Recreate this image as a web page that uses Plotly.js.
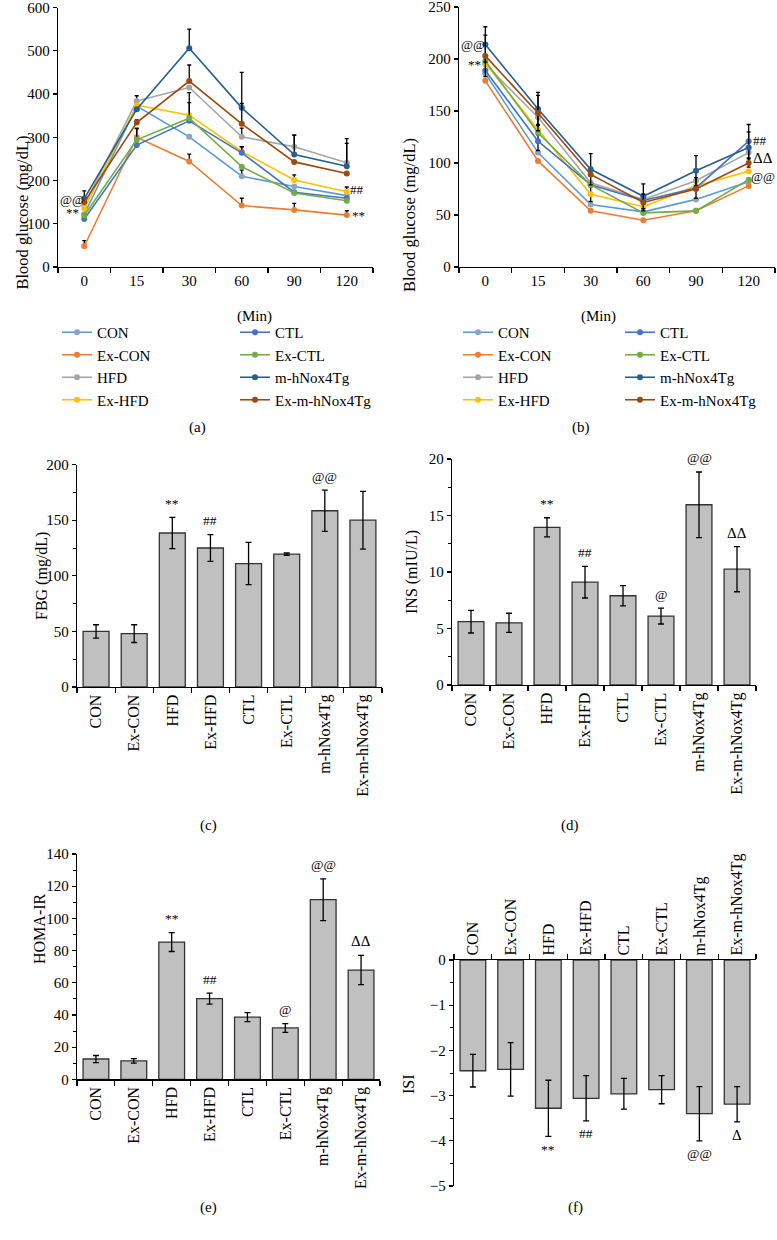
<!DOCTYPE html>
<html>
<head>
<meta charset="utf-8">
<script src="https://cdn.plot.ly/plotly-3.0.1.min.js"></script>
<style>
  body { margin: 0; background: #fff; }
  #graph { width: 777px; height: 1240px; }
</style>
</head>
<body>
<div id="graph"></div>
<script>
const groups = ['CON', 'Ex-CON', 'HFD', 'Ex-HFD', 'CTL', 'Ex-CTL', 'm-hNox4Tg', 'Ex-m-hNox4Tg'];
const lineColors = ['#5B9BD5', '#ED7D31', '#A5A5A5', '#FFC000', '#4472C4', '#70AD47', '#255E91', '#9E480E'];
const markerColors = ['#8FA3BF', '#ED7D31', '#A5A5A5', '#FFC000', '#4472C4', '#70AD47', '#255E91', '#9E480E'];
const minutes = ['0', '15', '30', '60', '90', '120'];

// (a) glucose tolerance, one row per group
const ogttMean = [
  [122, 372, 301, 210, 186, 165],
  [48, 300, 244, 142, 132, 120],
  [143, 384, 415, 301, 278, 241],
  [135, 374, 351, 267, 201, 174],
  [111, 282, 338, 264, 173, 159],
  [119, 294, 344, 232, 171, 153],
  [158, 365, 506, 368, 260, 233],
  [150, 334, 430, 331, 243, 216]
];
const ogttErr = [
  [0, 0, 0, 14, 0, 0],
  [13, 20, 17, 17, 15, 10],
  [0, 12, 0, 20, 27, 56],
  [0, 0, 52, 11, 12, 11],
  [0, 0, 0, 14, 0, 0],
  [0, 27, 36, 0, 0, 0],
  [18, 0, 44, 82, 45, 53],
  [0, 6, 37, 47, 0, 0]
];
const ogttNotes = [['@@', -0.24, 155], ['**', -0.22, 126], ['##', 5.19, 180], ['**', 5.23, 118]];

// (b) insulin tolerance
const ittMean = [
  [186, 110, 60, 53, 65, 82],
  [179, 102, 54, 45, 54, 78],
  [195, 144, 81, 65, 83, 110],
  [196, 132, 70, 58, 78, 92],
  [189, 121, 79, 64, 76, 121],
  [198, 129, 79, 52, 54, 84],
  [214, 152, 94, 68, 92.5, 115],
  [203, 148, 89, 62, 75, 100]
];
const ittErr = [
  [0, 0, 0, 0, 0, 0],
  [0, 0, 0, 0, 0, 0],
  [0, 0, 0, 0, 0, 0],
  [0, 5, 7, 0, 0, 0],
  [0, 9, 0, 0, 10, 16],
  [0, 0, 0, 0, 0, 0],
  [17, 16, 15, 12, 14.5, 15],
  [20, 17, 0, 8, 0, 4]
];
const ittNotes = [['@@', -0.24, 214], ['**', -0.21, 195], ['##', 5.21, 122], ['ΔΔ', 5.27, 104.5], ['@@', 5.28, 87]];

// (c)-(f) bar panels
const fbg = [50, 48, 138.5, 125, 111, 119.5, 158.5, 150];
const fbgErr = [6, 8, 14, 12, 19, 1, 18.5, 26];
const fbgMarks = ['', '', '**', '##', '', '', '@@', ''];

const ins = [5.6, 5.5, 13.95, 9.1, 7.9, 6.1, 15.95, 10.25];
const insErr = [1.0, 0.85, 0.85, 1.4, 0.9, 0.7, 2.9, 2.0];
const insMarks = ['', '', '**', '##', '', '@', '@@', 'ΔΔ'];

const homa = [12.6, 11.4, 85.3, 50.1, 38.6, 31.9, 111.6, 67.9];
const homaErr = [2.2, 1.4, 5.9, 3.4, 2.8, 2.7, 13, 9.1];
const homaMarks = ['', '', '**', '##', '', '@', '@@', 'ΔΔ'];

const isi = [-2.45, -2.42, -3.28, -3.06, -2.96, -2.87, -3.40, -3.19];
const isiErr = [0.36, 0.59, 0.62, 0.5, 0.34, 0.31, 0.6, 0.39];
const isiMarks = ['', '', '**', '##', '', '', '@@', 'Δ'];

const FONT = '"Liberation Serif", "Times New Roman", serif';
const px = x => x / 777;
const py = y => 1 - y / 1240;

const traces = [];

groups.forEach((g, i) => {
  traces.push({
    type: 'scatter', mode: 'lines+markers', name: g,
    x: minutes, y: ogttMean[i], xaxis: 'x', yaxis: 'y',
    line: {color: lineColors[i], width: 1.6},
    marker: {color: markerColors[i], size: 6},
    error_y: {
      type: 'data', symmetric: false,
      array: ogttErr[i].map(e => e || null),
      arrayminus: ogttErr[i].map(e => e ? 0 : null),
      color: '#000', thickness: 1.3, width: 2
    },
    legend: i < 4 ? 'legend' : 'legend2'
  });
});

groups.forEach((g, i) => {
  traces.push({
    type: 'scatter', mode: 'lines+markers', name: g,
    x: minutes, y: ittMean[i], xaxis: 'x2', yaxis: 'y2',
    line: {color: lineColors[i], width: 1.6},
    marker: {color: markerColors[i], size: 6},
    error_y: {
      type: 'data', symmetric: true,
      array: ittErr[i].map(e => e || null),
      color: '#000', thickness: 1.3, width: 2
    },
    legend: i < 4 ? 'legend3' : 'legend4'
  });
});

function barTrace(vals, errs, n) {
  return {
    type: 'bar', x: groups, y: vals, xaxis: 'x' + n, yaxis: 'y' + n,
    width: 0.68, showlegend: false,
    marker: {color: '#C0C0C0', line: {color: '#333', width: 1.3}},
    error_y: {type: 'data', array: errs, color: '#000', thickness: 1.3, width: 3}
  };
}
traces.push(barTrace(fbg, fbgErr, 3));
traces.push(barTrace(ins, insErr, 4));
traces.push(barTrace(homa, homaErr, 5));
traces.push(barTrace(isi, isiErr, 6));

const tickFont = {family: FONT, size: 15, color: '#000'};
const baseAxis = {
  showline: true, linecolor: '#000', linewidth: 1.2,
  ticks: 'outside', tickcolor: '#000', tickwidth: 1.2, ticklen: 4,
  showgrid: false, zeroline: false, fixedrange: true, tickfont: tickFont,
  ticklabeloverflow: 'allow'
};

function lineX(x0, x1, n) {
  return Object.assign({}, baseAxis, {
    type: 'category', range: [-0.5, 5.5], tickson: 'boundaries', ticklen: 5,
    domain: [px(x0), px(x1)], anchor: 'y' + n
  });
}
function barX(x0, x1, n, side) {
  return Object.assign({}, baseAxis, {
    type: 'category', range: [-0.5, 7.5], tickson: 'boundaries', ticklen: 5,
    tickangle: -90, tickfont: {family: FONT, size: 16, color: '#000'},
    domain: [px(x0), px(x1)], anchor: 'y' + n, side: side || 'bottom'
  });
}
function yAx(y0, y1, n, range, dtick, minor) {
  const ax = Object.assign({}, baseAxis, {
    range: range, dtick: dtick, domain: [py(y1), py(y0)], anchor: 'x' + n
  });
  if (minor) ax.minor = {dtick: minor, ticks: 'outside', ticklen: 3, tickcolor: '#000', tickwidth: 1};
  return ax;
}

const annotations = [];
function text(t, x, y, size, angle) {
  annotations.push({
    text: t, x: px(x), y: py(y), xref: 'paper', yref: 'paper',
    showarrow: false, textangle: angle || 0,
    font: {family: FONT, size: size, color: '#000'}
  });
}
text('Blood glucose (mg/dL)', 11, 134, 16.5, -90);
text('Blood glucose (mg/dL)', 410, 136, 16.5, -90);
text('FBG (mg/dL)', 31, 576, 16, -90);
text('INS (mIU/L)', 412, 572, 16, -90);
text('HOMA-IR', 29, 966, 16, -90);
text('ISI', 408, 1096, 16, -90);
text('(Min)', 235, 306, 15);
text('(Min)', 618, 306, 15);
text('(a)', 187, 427, 15);
text('(b)', 592, 427, 15);
text('(c)', 198, 825, 15);
text('(d)', 581, 825, 15);
text('(e)', 198, 1218, 15);
text('(f)', 585, 1218, 15);

function lineNotes(notes, n) {
  notes.forEach(([t, x, y]) => {
    annotations.push({
      text: t, x: x, y: y, xref: 'x' + n, yref: 'y' + n, showarrow: false,
      font: {family: FONT, size: t.indexOf('Δ') >= 0 ? 15 : 13, color: '#000'}
    });
  });
}
lineNotes(ogttNotes, '');
lineNotes(ittNotes, 2);

function barNotes(marks, vals, errs, n, below) {
  marks.forEach((t, i) => {
    if (!t) return;
    annotations.push({
      text: t, x: groups[i], y: below ? vals[i] - errs[i] : vals[i] + errs[i],
      xref: 'x' + n, yref: 'y' + n, showarrow: false, yanchor: 'middle',
      yshift: below ? -13 : 14,
      font: {family: FONT, size: t.indexOf('Δ') >= 0 ? 15 : 13.5, color: '#000'}
    });
  });
}
barNotes(fbgMarks, fbg, fbgErr, 3);
barNotes(insMarks, ins, insErr, 4);
barNotes(homaMarks, homa, homaErr, 5);
barNotes(isiMarks, isi, isiErr, 6, true);

function legendAt(x, y) {
  return {
    x: px(x), y: py(y), xanchor: 'left', yanchor: 'top', orientation: 'v',
    bgcolor: 'rgba(0,0,0,0)', borderwidth: 0,
    font: {family: FONT, size: 15, color: '#000'}
  };
}

const layout = {
  width: 777, height: 1240,
  margin: {l: 0, r: 0, t: 0, b: 0},
  paper_bgcolor: '#fff', plot_bgcolor: '#fff',
  showlegend: true,
  barmode: 'group',
  xaxis: lineX(58, 373, ''),
  yaxis: yAx(7.5, 267, '', [0, 600], 100),
  xaxis2: lineX(459, 775, 2),
  yaxis2: yAx(7, 267, 2, [0, 250], 50),
  xaxis3: barX(77, 382, 3),
  yaxis3: yAx(464.6, 687, 3, [0, 200], 50, 25),
  xaxis4: barX(452, 756, 4),
  yaxis4: yAx(459, 685, 4, [0, 20], 5, 2.5),
  xaxis5: barX(77, 380, 5),
  yaxis5: yAx(854, 1079.3, 5, [0, 140], 20, 10),
  xaxis6: barX(454, 756, 6, 'top'),
  yaxis6: yAx(960, 1186, 6, [-5, 0], 1, 0.5),
  legend: legendAt(57, 316),
  legend2: legendAt(235, 316),
  legend3: legendAt(458, 316),
  legend4: legendAt(620, 316),
  annotations: annotations
};
layout.xaxis.anchor = 'y';
layout.yaxis.anchor = 'x';

Plotly.newPlot('graph', traces, layout, {displayModeBar: false, staticPlot: true});
</script>
</body>
</html>
